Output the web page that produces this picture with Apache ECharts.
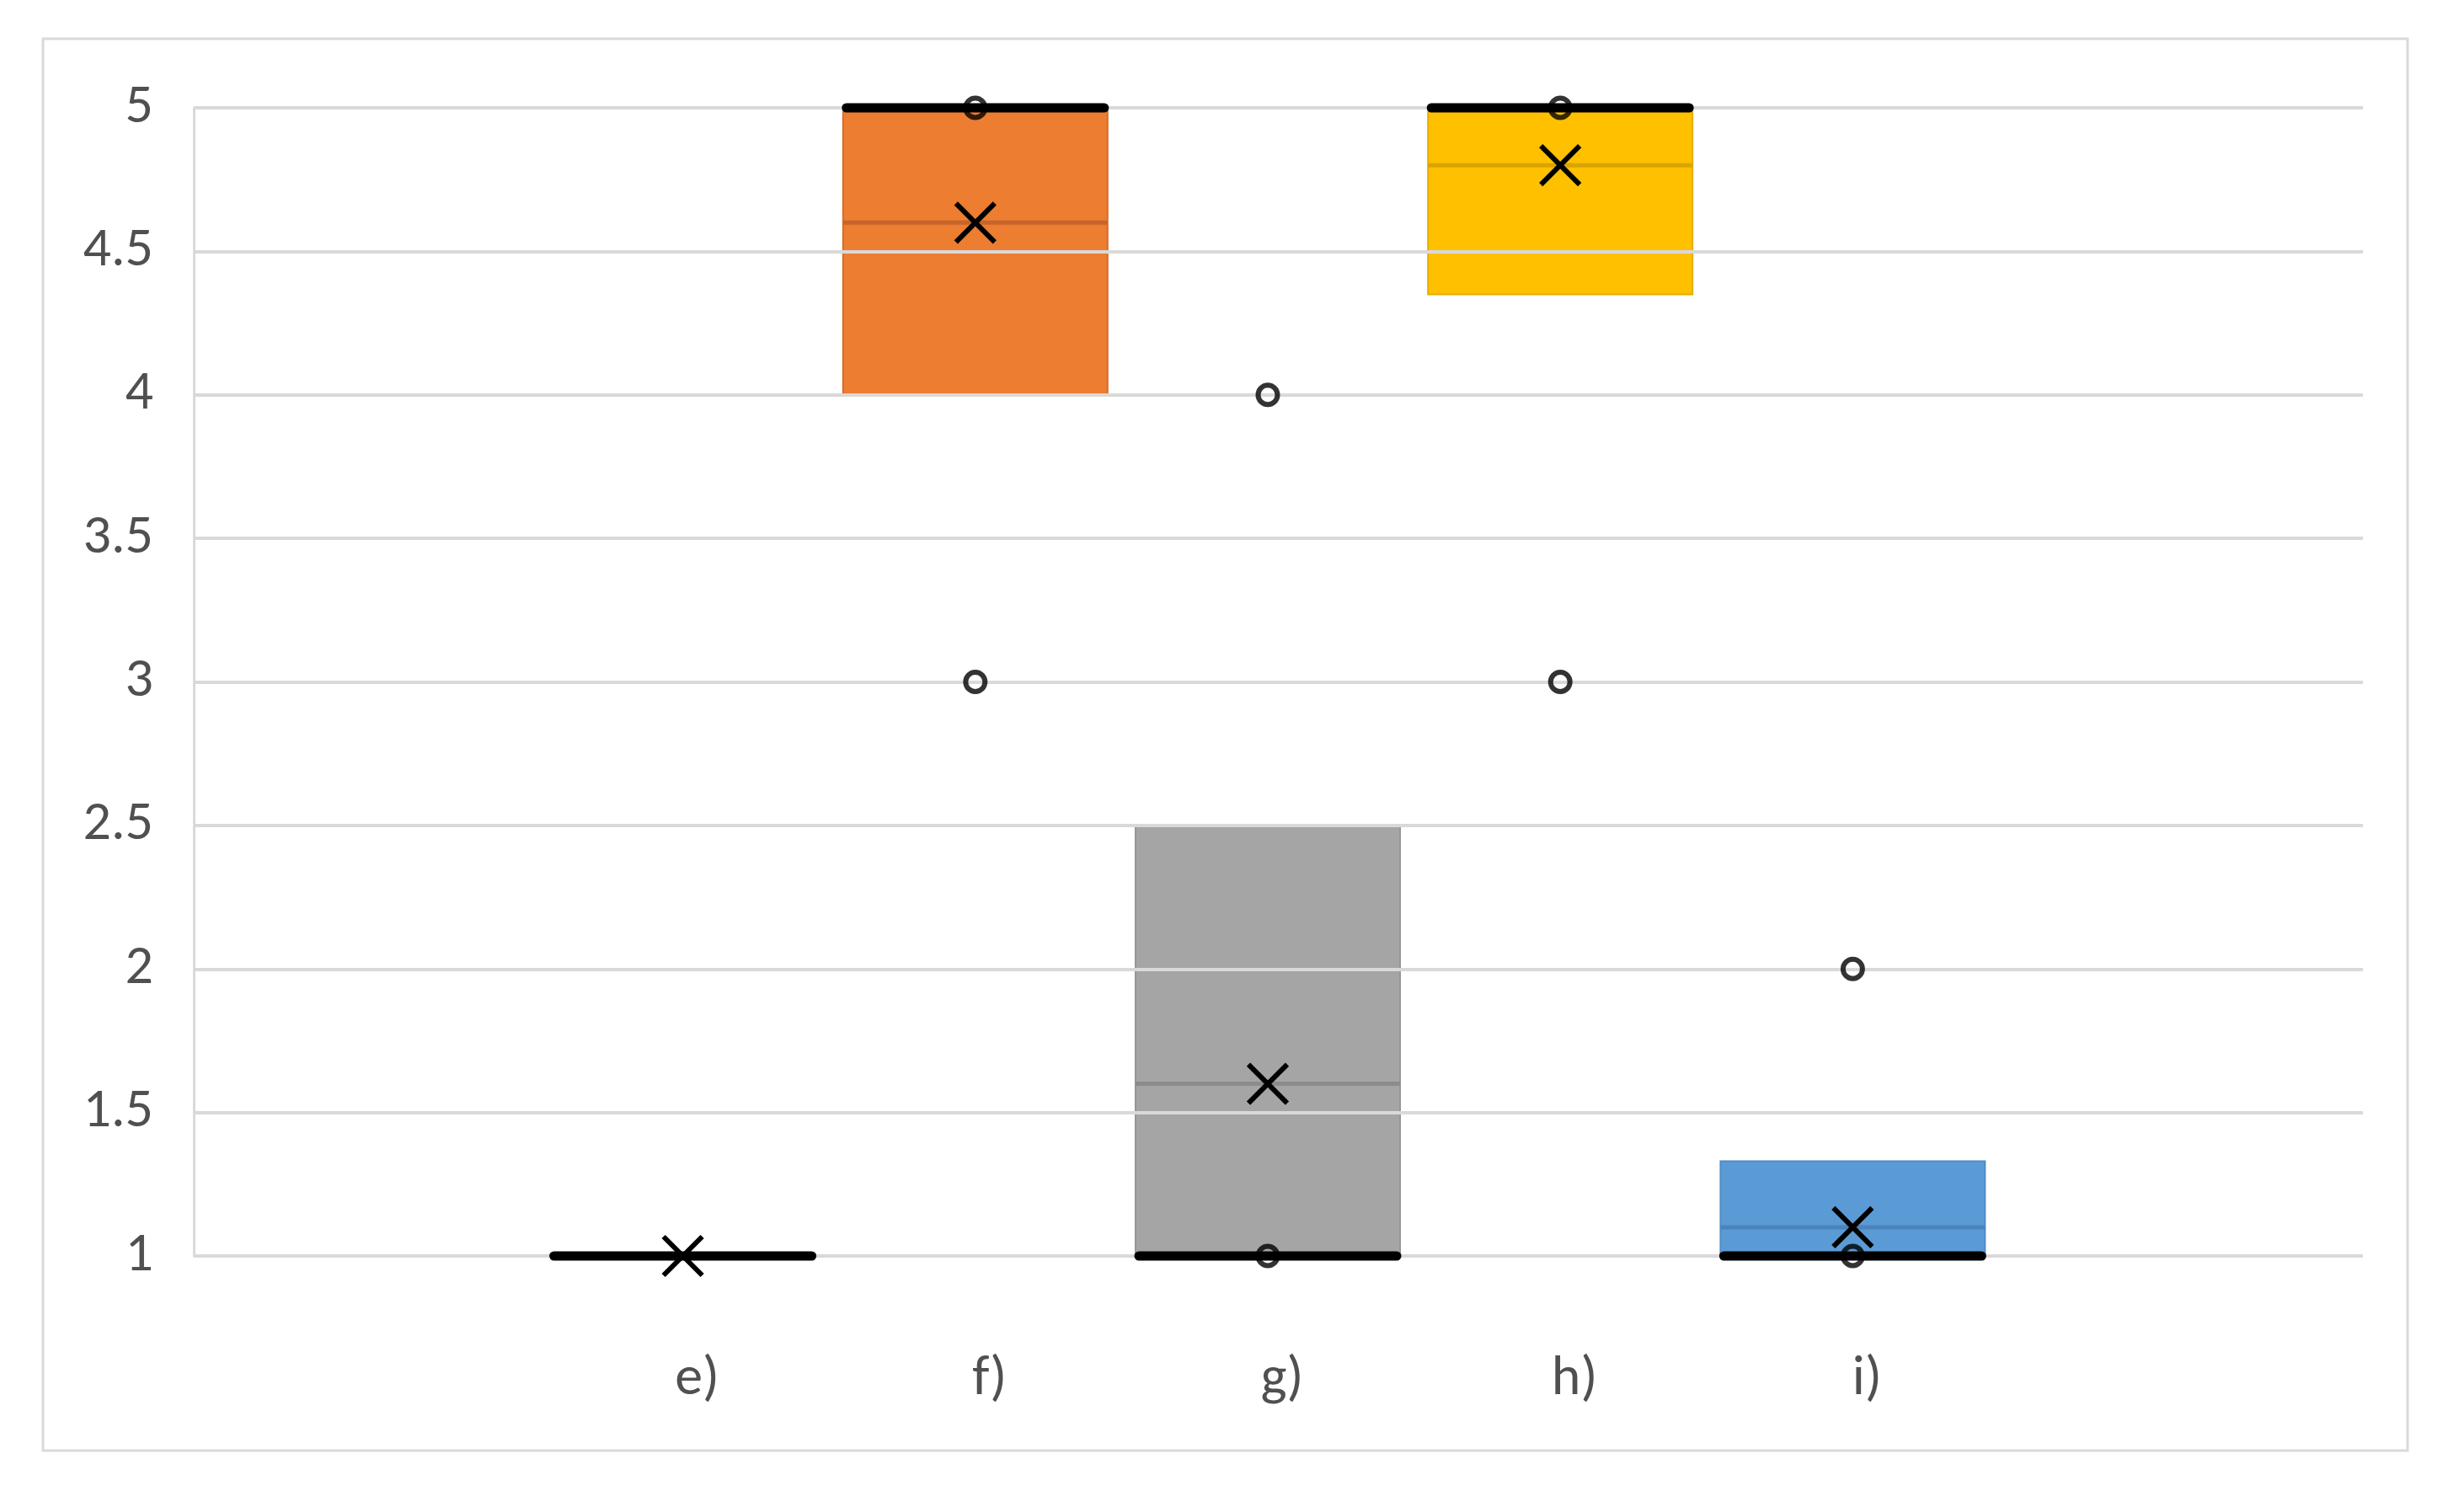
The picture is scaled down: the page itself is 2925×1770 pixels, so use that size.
<!DOCTYPE html>
<html>
<head>
<meta charset="utf-8">
<script src="https://cdn.jsdelivr.net/npm/echarts@6/dist/echarts.min.js"></script>
<style>
  html, body { margin: 0; padding: 0; background: #fff; }
  #chart { width: 2925px; height: 1770px; }
</style>
</head>
<body>
<div id="chart"></div>
<script>
// values
const categories = ['e)', 'f)', 'g)', 'h)', 'i)'];
const lowerWhisker = [1, 4, 1, 4.35, 1];
const q1 = [1, 4, 1, 4.35, 1];
const median = [1, 5, 1, 5, 1];
const q3 = [1, 5, 2.5, 5, 1.33];
const upperWhisker = [1, 5, 2.5, 5, 1.33];
const mean = [1, 4.6, 1.6, 4.8, 1.1];
const outliers = [[], [5, 3], [4, 1], [5, 3], [2, 1]];
const yMin = 1, yMax = 5, yStep = 0.5;

const boxColors = ['#4472C4', '#ED7D31', '#A5A5A5', '#FFC000', '#5B9BD5'];
const boxBorders = ['#3A64AE', '#D66E2A', '#969696', '#E5AD00', '#4F8CC4'];
const meanLineColors = ['#2F5597', '#C4652B', '#8C8C8C', '#D9A400', '#4A84BC'];

const FONT = 'Carlito, Lato, "Liberation Sans", sans-serif';
const BOX_W = 314;

var mychart = echarts.init(document.getElementById('chart'));

const boxData = categories.map((c, i) => ({
  value: [lowerWhisker[i], q1[i], median[i], q3[i], upperWhisker[i]],
  itemStyle: { color: boxColors[i], borderColor: boxBorders[i], borderWidth: 2 }
}));

const pointData = [];
outliers.forEach((arr, i) => arr.forEach(v => pointData.push([i, v])));

const lineData = categories.map((c, i) => [i, median[i], mean[i], i]);

mychart.setOption({
  backgroundColor: '#fff',
  animation: false,
  graphic: [{
    type: 'rect',
    shape: { x: 51, y: 46, width: 2807, height: 1676 },
    style: { fill: null, stroke: '#D9D9D9', lineWidth: 3 },
    z: 0
  }],
  grid: [
    { left: 230, right: 120, top: 128, bottom: 279 },
    { left: 637, right: 552, top: 128, bottom: 279 }
  ],
  xAxis: [
    { gridIndex: 0, type: 'value', show: false, min: 0, max: 1 },
    {
      gridIndex: 1,
      type: 'category',
      data: categories,
      axisLine: { show: false },
      axisTick: { show: false },
      axisLabel: {
        margin: 114,
        fontFamily: FONT,
        fontSize: 66,
        color: '#505050',
        padding: [0, 0, 0, 34]
      }
    }
  ],
  yAxis: [
    {
      gridIndex: 0,
      type: 'value',
      min: yMin,
      max: yMax,
      interval: yStep,
      z: 3,
      axisLine: { show: true, lineStyle: { color: '#D9D9D9', width: 3 } },
      axisTick: { show: false },
      axisLabel: { margin: 48, fontFamily: FONT, fontSize: 66, color: '#505050' },
      splitLine: { lineStyle: { color: '#D9D9D9', width: 4 } }
    },
    {
      gridIndex: 1,
      type: 'value',
      min: yMin,
      max: yMax,
      interval: yStep,
      show: false,
      splitLine: { show: false }
    }
  ],
  series: [
    {
      name: 'box',
      type: 'boxplot',
      xAxisIndex: 1,
      yAxisIndex: 1,
      z: 2,
      boxWidth: [BOX_W, BOX_W],
      data: boxData
    },
    {
      name: 'lines',
      type: 'custom',
      xAxisIndex: 1,
      yAxisIndex: 1,
      z: 5,
      data: lineData,
      renderItem: function (params, api) {
        const i = api.value(0);
        const x = api.coord([i, api.value(1)])[0];
        const yMed = api.coord([i, api.value(1)])[1];
        const yMean = api.coord([i, api.value(2)])[1];
        const hw = BOX_W / 2;
        const xs = 23;
        return {
          type: 'group',
          children: [
            {
              type: 'line',
              shape: { x1: x - hw, y1: yMean, x2: x + hw, y2: yMean },
              style: { stroke: meanLineColors[api.value(3)], lineWidth: 5 }
            },
            {
              type: 'line',
              shape: { x1: x - hw + 4, y1: yMed, x2: x + hw - 4, y2: yMed },
              style: { stroke: '#000', lineWidth: 11, lineCap: 'round' }
            },
            {
              type: 'line',
              shape: { x1: x - xs, y1: yMean - xs, x2: x + xs, y2: yMean + xs },
              style: { stroke: '#000', lineWidth: 6 }
            },
            {
              type: 'line',
              shape: { x1: x - xs, y1: yMean + xs, x2: x + xs, y2: yMean - xs },
              style: { stroke: '#000', lineWidth: 6 }
            }
          ]
        };
      }
    },
    {
      name: 'points',
      type: 'scatter',
      xAxisIndex: 1,
      yAxisIndex: 1,
      z: 6,
      symbol: 'circle',
      symbolSize: 23,
      itemStyle: { color: 'rgba(0,0,0,0)', borderColor: '#000', borderWidth: 6 },
      data: pointData
    }
  ]
});
</script>
</body>
</html>
